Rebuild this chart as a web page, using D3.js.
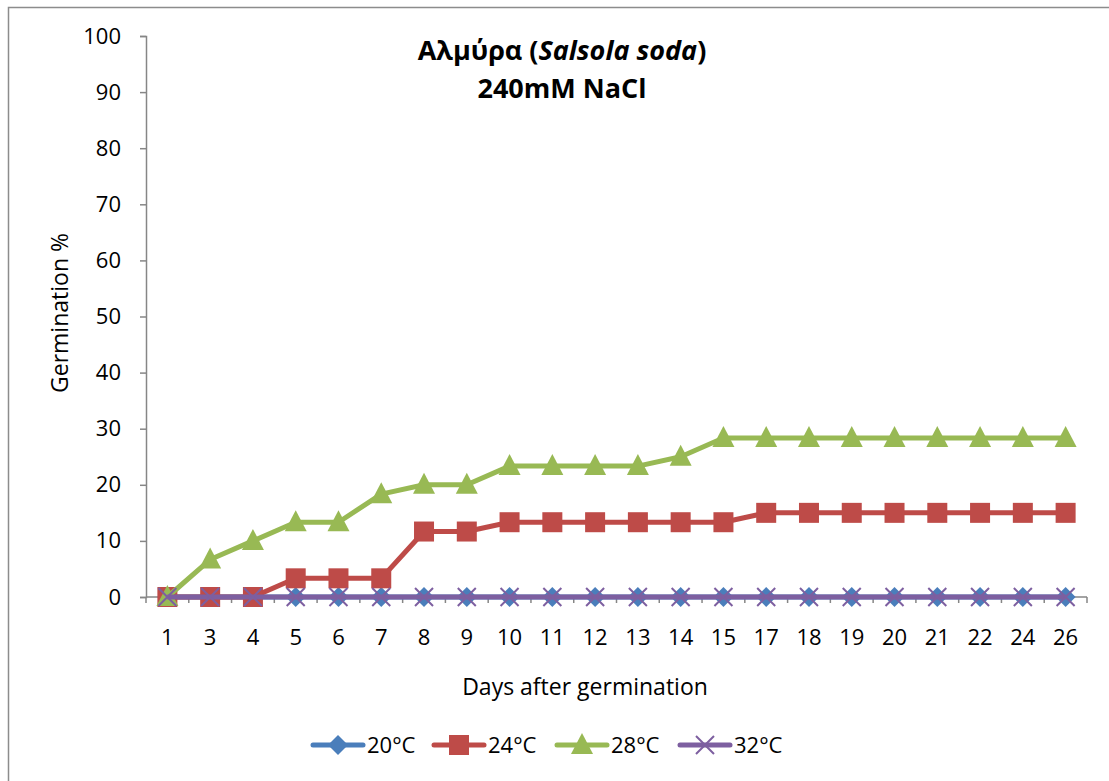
<!DOCTYPE html>
<html>
<head>
<meta charset="utf-8">
<script src="https://cdn.jsdelivr.net/npm/d3@7"></script>
<style>
  body { margin: 0; background: #fff; }
  svg { display: block; font-family: "Open Sans", "Noto Sans", sans-serif; }
</style>
</head>
<body>
<svg id="chart" width="1109" height="781"></svg>
<script>
// Daten
const days = ['1', '3', '4', '5', '6', '7', '8', '9', '10', '11', '12', '13', '14', '15', '17', '18', '19', '20', '21', '22', '24', '26'];
const yTicks = [0, 10, 20, 30, 40, 50, 60, 70, 80, 90, 100];
const t20 = [0, 0, 0, 0, 0, 0, 0, 0, 0, 0, 0, 0, 0, 0, 0, 0, 0, 0, 0, 0, 0, 0];
const t24 = [0, 0, 0, 3.33, 3.33, 3.33, 11.67, 11.67, 13.33, 13.33, 13.33, 13.33, 13.33, 13.33, 15, 15, 15, 15, 15, 15, 15, 15];
const t28 = [0, 6.67, 10, 13.33, 13.33, 18.33, 20, 20, 23.33, 23.33, 23.33, 23.33, 25, 28.33, 28.33, 28.33, 28.33, 28.33, 28.33, 28.33, 28.33, 28.33];
const t32 = [0, 0, 0, 0, 0, 0, 0, 0, 0, 0, 0, 0, 0, 0, 0, 0, 0, 0, 0, 0, 0, 0];

const series = [
    { name: '20°C', values: t20, color: '#4a7ebb', marker: 'diamond' },
    { name: '24°C', values: t24, color: '#be4b48', marker: 'square' },
    { name: '28°C', values: t28, color: '#98b954', marker: 'triangle' },
    { name: '32°C', values: t32, color: '#7d5fa0', marker: 'cross' }
];

const svg = d3.select('#chart');
const axisColor = '#868686';

// Rahmen
svg.append('rect')
    .attr('x', 8.5).attr('y', 7.5)
    .attr('width', 1200).attr('height', 900)
    .attr('fill', 'none')
    .attr('stroke', '#8c8c8c')
    .attr('stroke-width', 1.5);

const margin = { top: 36, left: 146, bottom: 597, right: 1087 };

const x = d3.scaleBand()
    .domain(days)
    .range([margin.left, margin.right]);

const y = d3.scaleLinear()
    .domain([0, 100])
    .range([margin.bottom, margin.top]);

// Y-Achse
const yAxis = svg.append('g')
    .attr('transform', `translate(${margin.left},0)`)
    .call(d3.axisLeft(y).tickValues(yTicks).tickSize(6).tickPadding(19));
yAxis.select('.domain').attr('stroke', axisColor).attr('stroke-width', 1.5);
yAxis.selectAll('.tick line').attr('stroke', axisColor).attr('stroke-width', 1.5);
yAxis.selectAll('.tick text')
    .style('font-size', '22px')
    .style('font-family', '"Open Sans", sans-serif')
    .attr('fill', '#000');

// X-Achse (Ticks zwischen den Kategorien)
const xg = svg.append('g')
    .attr('transform', `translate(0,${margin.bottom})`);
xg.append('line')
    .attr('x1', margin.left).attr('x2', margin.right)
    .attr('stroke', axisColor).attr('stroke-width', 1.5);
const bounds = days.map(d => x(d)).concat([x(days[days.length - 1]) + x.bandwidth()]);
xg.selectAll('.xtick')
    .data(bounds)
    .enter()
    .append('line')
    .attr('x1', d => d).attr('x2', d => d)
    .attr('y1', 0).attr('y2', 6)
    .attr('stroke', axisColor).attr('stroke-width', 1.5);
xg.selectAll('.xlabel')
    .data(days)
    .enter()
    .append('text')
    .attr('x', d => x(d) + x.bandwidth() / 2)
    .attr('y', 48)
    .attr('text-anchor', 'middle')
    .style('font-size', '22px')
    .text(d => d);

// Achsentitel
svg.append('text')
    .attr('x', 585).attr('y', 695)
    .attr('text-anchor', 'middle')
    .style('font-size', '23px')
    .text('Days after germination');

svg.append('text')
    .attr('transform', 'translate(68,313) rotate(-90)')
    .attr('text-anchor', 'middle')
    .style('font-size', '23px')
    .text('Germination %');

// Titel
const title = svg.append('text')
    .attr('x', 562).attr('y', 60)
    .attr('text-anchor', 'middle')
    .style('font-size', '27px')
    .style('font-weight', 'bold');
title.append('tspan').text('Αλμύρα (');
title.append('tspan').style('font-style', 'italic').text('Salsola soda');
title.append('tspan').text(')');
svg.append('text')
    .attr('x', 562).attr('y', 98)
    .attr('text-anchor', 'middle')
    .style('font-size', '27px')
    .style('font-weight', 'bold')
    .text('240mM NaCl');

// Marker
function drawMarker(g, type, color, cx, cy) {
    if (type === 'diamond') {
        g.append('path')
            .attr('d', `M${cx},${cy - 10}L${cx + 10},${cy}L${cx},${cy + 10}L${cx - 10},${cy}Z`)
            .attr('fill', color);
    } else if (type === 'square') {
        g.append('rect')
            .attr('x', cx - 10).attr('y', cy - 10)
            .attr('width', 20).attr('height', 20)
            .attr('fill', color);
    } else if (type === 'triangle') {
        g.append('path')
            .attr('d', `M${cx},${cy - 12}L${cx + 11},${cy + 9}L${cx - 11},${cy + 9}Z`)
            .attr('fill', color);
    } else if (type === 'cross') {
        g.append('path')
            .attr('d', `M${cx - 9},${cy - 9}L${cx + 9},${cy + 9}M${cx - 9},${cy + 9}L${cx + 9},${cy - 9}`)
            .attr('stroke', color)
            .attr('stroke-width', 2);
    }
}

// Linien
const line = d3.line()
    .x((d, i) => x(days[i]) + x.bandwidth() / 2)
    .y(d => y(d));

series.forEach(s => {
    const g = svg.append('g');
    g.append('path')
        .datum(s.values)
        .attr('d', line)
        .attr('fill', 'none')
        .attr('stroke', s.color)
        .attr('stroke-width', 5)
        .attr('stroke-linejoin', 'round');
    s.values.forEach((v, i) => {
        drawMarker(g, s.marker, s.color, x(days[i]) + x.bandwidth() / 2, y(v));
    });
});

// Legende
const legendX = [313, 434, 557, 680];
const legend = svg.append('g').attr('transform', 'translate(0,745)');
series.forEach((s, i) => {
    const lg = legend.append('g').attr('transform', `translate(${legendX[i]},0)`);
    lg.append('line')
        .attr('x1', 0).attr('x2', 50)
        .attr('stroke', s.color)
        .attr('stroke-width', 5)
        .attr('stroke-linecap', 'round');
    drawMarker(lg, s.marker, s.color, 25, 0);
    lg.append('text')
        .attr('x', 54).attr('y', 8)
        .style('font-size', '22px')
        .text(s.name);
});
</script>
</body>
</html>
